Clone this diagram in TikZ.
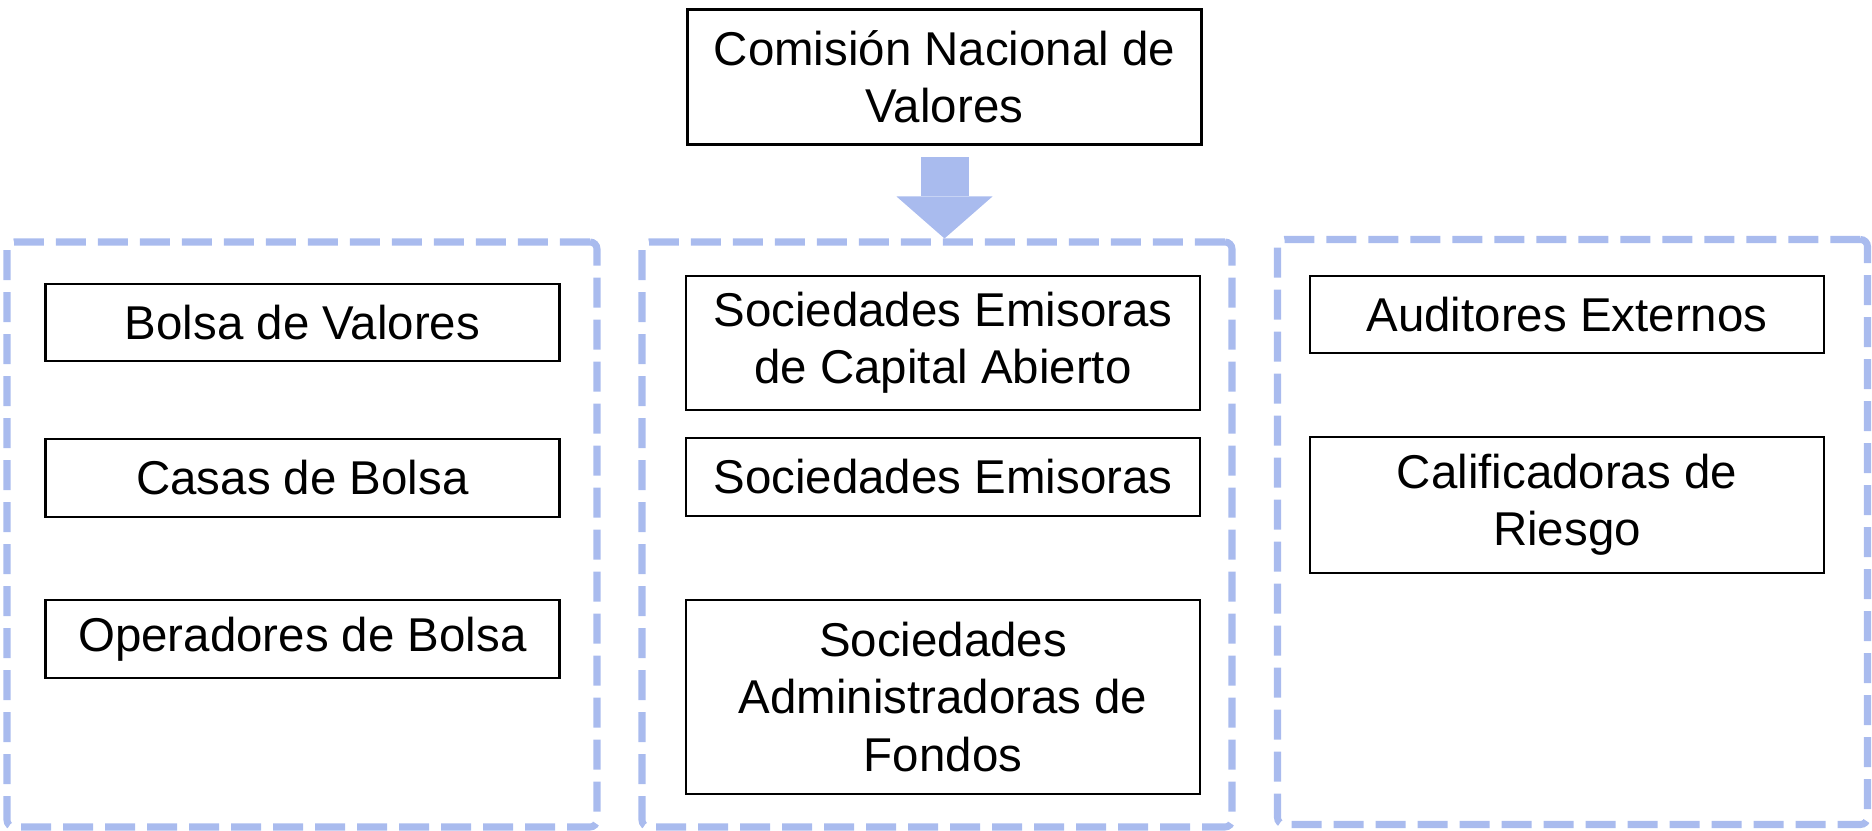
\documentclass[tikz,border=0pt]{standalone}
\usepackage{fontspec}
\setmainfont{Liberation Sans}
\usetikzlibrary{arrows.meta}
\definecolor{azulclaro}{RGB}{169,187,238}

\begin{document}
\begin{tikzpicture}[caja/.style = {draw, line width=0.8pt, minimum width=5.14cm, inner sep=0pt, align=center, font=\fontsize{13.5}{16.3}\selectfont},
  grupo/.style = {draw=azulclaro, line width=2pt, dash pattern=on 0.30cm off 0.12cm, rounded corners=2pt, minimum width=5.9cm, minimum height=5.85cm}]
\useasboundingbox (0,0) rectangle (18.72,-8.31);
\node[grupo] (izq) at (3.02,-5.345) {};
\node[grupo] (centro) at (9.37,-5.345) {};
\node[grupo] (der) at (15.725,-5.32) {};
\node[caja, minimum height=1.35cm] (cnv) at (9.445,-0.77) {Comisión Nacional de\\Valores};
\node[caja, minimum height=0.77cm] (bolsa) at (3.025,-3.225) {Bolsa de Valores};
\node[caja, minimum height=0.78cm] (casas) at (3.025,-4.78) {Casas de Bolsa};
\node[caja, minimum height=0.78cm] (operadores) at (3.025,-6.39) {Operadores de Bolsa};
\node[caja, minimum height=1.34cm] (capital) at (9.43,-3.43) {Sociedades Emisoras\\de Capital Abierto};
\node[caja, minimum height=0.78cm] (emisoras) at (9.43,-4.77) {Sociedades Emisoras};
\node[caja, minimum height=1.94cm] (fondos) at (9.43,-6.97) {Sociedades\\Administradoras de\\Fondos};
\node[caja, minimum height=0.77cm] (auditores) at (15.67,-3.145) {Auditores Externos};
\node[caja, minimum height=1.36cm] (riesgo) at (15.67,-5.05) {Calificadoras de\\Riesgo};
\draw[azulclaro, line width=0.48cm, shorten <=0.115cm, -{Triangle[width=0.96cm, length=0.42cm, line width=0pt]}] (cnv.south) -- (cnv.south |- centro.north);
\end{tikzpicture}
\end{document}
